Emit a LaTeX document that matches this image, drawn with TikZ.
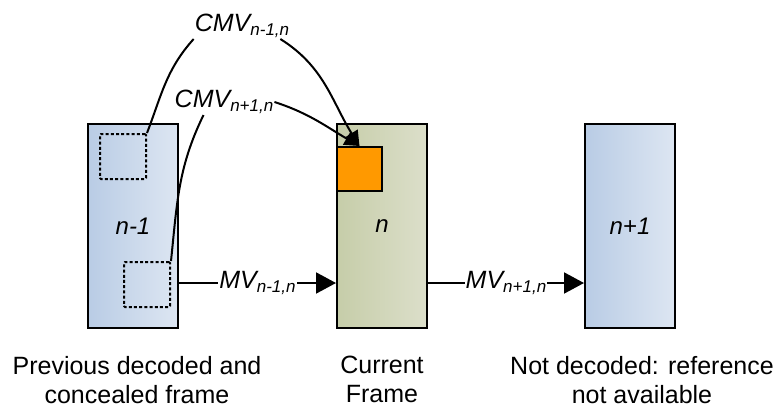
\documentclass[tikz,border=0pt]{standalone}
\usepackage{fontspec}
\setmainfont{Liberation Sans}
\usepackage{xcolor}
\usepackage{tikz}
\usetikzlibrary{arrows.meta}
\usetikzlibrary{positioning}

\definecolor{blueleft}{HTML}{B9CCE5}
\definecolor{blueright}{HTML}{DDE6F2}
\definecolor{greenleft}{HTML}{C6CDA9}
\definecolor{greenright}{HTML}{DCDFCA}
\definecolor{patchorange}{HTML}{FF9900}
\newcommand{\subidx}[1]{\raisebox{-4pt}{\fontsize{17}{17}\selectfont #1}}

\begin{document}
\begin{tikzpicture}[
  x=1pt, y=1pt,
  frame/.style={draw, line width=2pt, minimum width=90pt, minimum height=204pt,
    font=\fontsize{24}{28}\selectfont\itshape},
  blueframe/.style={frame, left color=blueleft, right color=blueright},
  greenframe/.style={frame, left color=greenleft, right color=greenright},
  dashbox/.style={draw, dash pattern=on 3pt off 2.2pt, line width=2pt, rounded corners=1pt,
    minimum width=46pt, minimum height=45pt, inner sep=0pt},
  patch/.style={draw, fill=patchorange, line width=2pt, minimum width=45pt,
    minimum height=44pt, inner sep=0pt},
  mvlabel/.style={font=\fontsize{25}{29}\selectfont\itshape, fill=white, inner sep=1pt},
  caption/.style={font=\fontsize{25}{29}\selectfont, align=center, inner sep=0pt},
  vec/.style={line width=2pt},
  cmvtip/.style={-{Triangle[length=15pt, width=14pt]}},
]
\tikzset{>={Triangle[length=20pt, width=21pt]}}
\useasboundingbox (0,0) rectangle (777,-407);

% frames
\node[blueframe] (prev) at (133,-226) {n-1};
\node[greenframe, right=157pt of prev] (cur) {n};
\node[blueframe, right=156pt of cur] (next) {n+1};

% blocks
\node[dashbox, anchor=north west] (oldblock) at ([xshift=12pt, yshift=-10pt]prev.north west) {};
\node[dashbox, anchor=south east] (newblock) at ([xshift=-8pt, yshift=21pt]prev.south east) {};
\node[patch, anchor=north west] (lost) at ([yshift=-23pt]cur.north west) {};

% motion vectors
\draw[vec, ->] ([yshift=-57pt]prev.east) -- node[mvlabel] (mvprev) {MV\subidx{n-1,n}} ([yshift=-57pt]cur.west);
\draw[vec, ->] ([yshift=-57pt]cur.east) -- node[mvlabel] (mvnext) {MV\subidx{n+1,n}} ([yshift=-57pt]next.west);

% concealment vectors
\node[mvlabel] (cmvprev) at (242,-26) {CMV\subidx{n-1,n}};
\node[mvlabel] (cmvnext) at (224,-102) {CMV\subidx{n+1,n}};
\draw[vec] (oldblock.north east) to[out=69, in=228] (cmvprev.south west);
\draw[vec, cmvtip] ([xshift=-10pt]cmvprev.south east) to[out=-32, in=122] (lost.north);
\draw[vec] (newblock.north east) to[out=84, in=244] ([xshift=30pt]cmvnext.south west);
\draw[vec, cmvtip] (cmvnext.east) to[out=-18, in=150] (lost.north);

% captions
\node[caption, below=27pt of prev, xshift=4pt] (prevcap) {Previous decoded and\\concealed frame};
\node[caption, below=27pt of cur] (curcap) {Current\\Frame};
\node[caption, below=27pt of next, xshift=12pt] (nextcap) {Not decoded: reference\\not available};
\end{tikzpicture}
\end{document}
